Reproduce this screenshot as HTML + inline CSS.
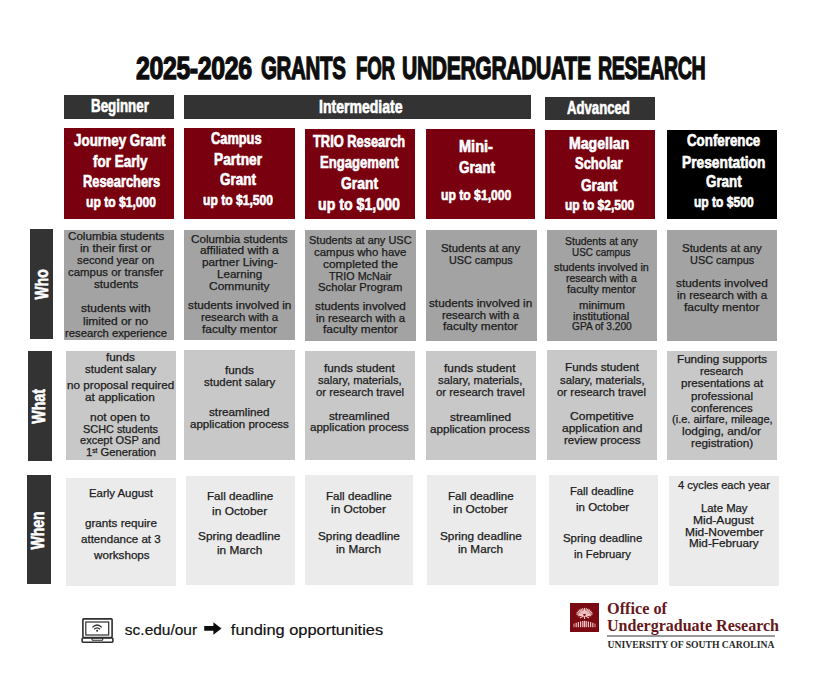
<!DOCTYPE html>
<html><head><meta charset="utf-8"><style>
html,body{margin:0;padding:0;background:#fff;}
body{width:825px;height:700px;position:relative;overflow:hidden;}
.b{position:absolute;}
.t{position:absolute;text-align:center;white-space:nowrap;transform-origin:50% 50%;}
sup{font-size:0.6em;line-height:0;vertical-align:0.55em;}
</style></head><body>
<div class="t" style="left:136.00px;top:53.29px;text-align:left;transform-origin:0 50%;font-family:'Liberation Sans',sans-serif;font-weight:700;font-size:31.2px;line-height:31.2px;color:#0d0d0d;letter-spacing:-0.500px;transform:scaleX(0.7993);-webkit-text-stroke:1.3px #0d0d0d;">2025-2026</div>
<div class="t" style="left:260.50px;top:53.29px;text-align:left;transform-origin:0 50%;font-family:'Liberation Sans',sans-serif;font-weight:700;font-size:31.2px;line-height:31.2px;color:#0d0d0d;letter-spacing:-0.500px;transform:scaleX(0.6573);-webkit-text-stroke:1.3px #0d0d0d;">GRANTS</div>
<div class="t" style="left:355.60px;top:53.29px;text-align:left;transform-origin:0 50%;font-family:'Liberation Sans',sans-serif;font-weight:700;font-size:31.2px;line-height:31.2px;color:#0d0d0d;letter-spacing:-0.500px;transform:scaleX(0.6000);-webkit-text-stroke:1.3px #0d0d0d;">FOR</div>
<div class="t" style="left:401.80px;top:53.29px;text-align:left;transform-origin:0 50%;font-family:'Liberation Sans',sans-serif;font-weight:700;font-size:31.2px;line-height:31.2px;color:#0d0d0d;letter-spacing:-0.500px;transform:scaleX(0.6766);-webkit-text-stroke:1.3px #0d0d0d;">UNDERGRADUATE</div>
<div class="t" style="left:598.20px;top:53.29px;text-align:left;transform-origin:0 50%;font-family:'Liberation Sans',sans-serif;font-weight:700;font-size:31.2px;line-height:31.2px;color:#0d0d0d;letter-spacing:-0.500px;transform:scaleX(0.6279);-webkit-text-stroke:1.3px #0d0d0d;">RESEARCH</div>
<div class="b" style="left:64px;top:95px;width:110px;height:23.5px;background:#333333"></div>
<div class="b" style="left:184px;top:95px;width:347px;height:23.5px;background:#333333"></div>
<div class="b" style="left:545px;top:97px;width:110px;height:23px;background:#333333"></div>
<div class="t" style="left:90.50px;top:96.76px;text-align:left;transform-origin:0 50%;font-family:'Liberation Sans',sans-serif;font-weight:700;font-size:18.6px;line-height:18.6px;color:#fff;letter-spacing:0.000px;transform:scaleX(0.7181);-webkit-text-stroke:0.65px #fff;">Beginner</div>
<div class="t" style="left:318.50px;top:97.56px;text-align:left;transform-origin:0 50%;font-family:'Liberation Sans',sans-serif;font-weight:700;font-size:18.6px;line-height:18.6px;color:#fff;letter-spacing:0.000px;transform:scaleX(0.7560);-webkit-text-stroke:0.65px #fff;">Intermediate</div>
<div class="t" style="left:566.60px;top:98.86px;text-align:left;transform-origin:0 50%;font-family:'Liberation Sans',sans-serif;font-weight:700;font-size:18.6px;line-height:18.6px;color:#fff;letter-spacing:0.000px;transform:scaleX(0.7075);-webkit-text-stroke:0.65px #fff;">Advanced</div>
<div class="b" style="left:64px;top:128px;width:110px;height:90.5px;background:#78000f"></div>
<div class="b" style="left:184px;top:128px;width:110.5px;height:90.5px;background:#78000f"></div>
<div class="b" style="left:305px;top:128.5px;width:109.5px;height:90.0px;background:#78000f"></div>
<div class="b" style="left:425.5px;top:128.5px;width:109.0px;height:90.0px;background:#78000f"></div>
<div class="b" style="left:545px;top:130px;width:110px;height:88.5px;background:#78000f"></div>
<div class="b" style="left:667px;top:129.5px;width:109.5px;height:89.0px;background:#000"></div>
<div class="t" style="left:74.00px;top:132.86px;text-align:left;transform-origin:0 50%;font-family:'Liberation Sans',sans-serif;font-weight:700;font-size:16.7px;line-height:16.7px;color:#fff;letter-spacing:0.000px;transform:scaleX(0.8025);-webkit-text-stroke:0.65px #fff;">Journey Grant</div>
<div class="t" style="left:92.70px;top:153.56px;text-align:left;transform-origin:0 50%;font-family:'Liberation Sans',sans-serif;font-weight:700;font-size:16.7px;line-height:16.7px;color:#fff;letter-spacing:0.000px;transform:scaleX(0.8063);-webkit-text-stroke:0.65px #fff;">for Early</div>
<div class="t" style="left:82.70px;top:174.16px;text-align:left;transform-origin:0 50%;font-family:'Liberation Sans',sans-serif;font-weight:700;font-size:16.7px;line-height:16.7px;color:#fff;letter-spacing:0.000px;transform:scaleX(0.7708);-webkit-text-stroke:0.65px #fff;">Researchers</div>
<div class="t" style="left:86.00px;top:193.96px;text-align:left;transform-origin:0 50%;font-family:'Liberation Sans',sans-serif;font-weight:700;font-size:15.4px;line-height:15.4px;color:#fff;letter-spacing:0.000px;transform:scaleX(0.7864);-webkit-text-stroke:0.65px #fff;">up to $1,000</div>
<div class="t" style="left:210.70px;top:131.16px;text-align:left;transform-origin:0 50%;font-family:'Liberation Sans',sans-serif;font-weight:700;font-size:16.7px;line-height:16.7px;color:#fff;letter-spacing:0.000px;transform:scaleX(0.7680);-webkit-text-stroke:0.65px #fff;">Campus</div>
<div class="t" style="left:213.60px;top:152.16px;text-align:left;transform-origin:0 50%;font-family:'Liberation Sans',sans-serif;font-weight:700;font-size:16.7px;line-height:16.7px;color:#fff;letter-spacing:0.000px;transform:scaleX(0.8212);-webkit-text-stroke:0.65px #fff;">Partner</div>
<div class="t" style="left:220.00px;top:172.16px;text-align:left;transform-origin:0 50%;font-family:'Liberation Sans',sans-serif;font-weight:700;font-size:16.7px;line-height:16.7px;color:#fff;letter-spacing:0.000px;transform:scaleX(0.8089);-webkit-text-stroke:0.65px #fff;">Grant</div>
<div class="t" style="left:202.70px;top:191.96px;text-align:left;transform-origin:0 50%;font-family:'Liberation Sans',sans-serif;font-weight:700;font-size:15.4px;line-height:15.4px;color:#fff;letter-spacing:0.000px;transform:scaleX(0.7864);-webkit-text-stroke:0.65px #fff;">up to $1,500</div>
<div class="t" style="left:313.00px;top:134.16px;text-align:left;transform-origin:0 50%;font-family:'Liberation Sans',sans-serif;font-weight:700;font-size:16.7px;line-height:16.7px;color:#fff;letter-spacing:0.000px;transform:scaleX(0.7708);-webkit-text-stroke:0.65px #fff;">TRIO Research</div>
<div class="t" style="left:319.70px;top:154.86px;text-align:left;transform-origin:0 50%;font-family:'Liberation Sans',sans-serif;font-weight:700;font-size:16.7px;line-height:16.7px;color:#fff;letter-spacing:0.000px;transform:scaleX(0.7844);-webkit-text-stroke:0.65px #fff;">Engagement</div>
<div class="t" style="left:341.00px;top:176.16px;text-align:left;transform-origin:0 50%;font-family:'Liberation Sans',sans-serif;font-weight:700;font-size:16.7px;line-height:16.7px;color:#fff;letter-spacing:0.000px;transform:scaleX(0.8314);-webkit-text-stroke:0.65px #fff;">Grant</div>
<div class="t" style="left:318.30px;top:195.74px;text-align:left;transform-origin:0 50%;font-family:'Liberation Sans',sans-serif;font-weight:700;font-size:17.2px;line-height:17.2px;color:#fff;letter-spacing:0.000px;transform:scaleX(0.8248);-webkit-text-stroke:0.65px #fff;">up to $1,000</div>
<div class="t" style="left:459.00px;top:138.56px;text-align:left;transform-origin:0 50%;font-family:'Liberation Sans',sans-serif;font-weight:700;font-size:16.7px;line-height:16.7px;color:#fff;letter-spacing:0.000px;transform:scaleX(0.8719);-webkit-text-stroke:0.65px #fff;">Mini-</div>
<div class="t" style="left:458.60px;top:159.56px;text-align:left;transform-origin:0 50%;font-family:'Liberation Sans',sans-serif;font-weight:700;font-size:16.7px;line-height:16.7px;color:#fff;letter-spacing:0.000px;transform:scaleX(0.8089);-webkit-text-stroke:0.65px #fff;">Grant</div>
<div class="t" style="left:441.00px;top:187.26px;text-align:left;transform-origin:0 50%;font-family:'Liberation Sans',sans-serif;font-weight:700;font-size:15.4px;line-height:15.4px;color:#fff;letter-spacing:0.000px;transform:scaleX(0.7909);-webkit-text-stroke:0.65px #fff;">up to $1,000</div>
<div class="t" style="left:569.00px;top:136.46px;text-align:left;transform-origin:0 50%;font-family:'Liberation Sans',sans-serif;font-weight:700;font-size:16.7px;line-height:16.7px;color:#fff;letter-spacing:0.000px;transform:scaleX(0.8436);-webkit-text-stroke:0.65px #fff;">Magellan</div>
<div class="t" style="left:575.40px;top:156.46px;text-align:left;transform-origin:0 50%;font-family:'Liberation Sans',sans-serif;font-weight:700;font-size:16.7px;line-height:16.7px;color:#fff;letter-spacing:0.000px;transform:scaleX(0.7766);-webkit-text-stroke:0.65px #fff;">Scholar</div>
<div class="t" style="left:581.30px;top:177.56px;text-align:left;transform-origin:0 50%;font-family:'Liberation Sans',sans-serif;font-weight:700;font-size:16.7px;line-height:16.7px;color:#fff;letter-spacing:0.000px;transform:scaleX(0.8179);-webkit-text-stroke:0.65px #fff;">Grant</div>
<div class="t" style="left:564.70px;top:197.26px;text-align:left;transform-origin:0 50%;font-family:'Liberation Sans',sans-serif;font-weight:700;font-size:15.4px;line-height:15.4px;color:#fff;letter-spacing:0.000px;transform:scaleX(0.7785);-webkit-text-stroke:0.65px #fff;">up to $2,500</div>
<div class="t" style="left:687.00px;top:132.86px;text-align:left;transform-origin:0 50%;font-family:'Liberation Sans',sans-serif;font-weight:700;font-size:16.7px;line-height:16.7px;color:#fff;letter-spacing:0.000px;transform:scaleX(0.7980);-webkit-text-stroke:0.65px #fff;">Conference</div>
<div class="t" style="left:682.00px;top:154.56px;text-align:left;transform-origin:0 50%;font-family:'Liberation Sans',sans-serif;font-weight:700;font-size:16.7px;line-height:16.7px;color:#fff;letter-spacing:0.000px;transform:scaleX(0.8248);-webkit-text-stroke:0.65px #fff;">Presentation</div>
<div class="t" style="left:706.00px;top:174.16px;text-align:left;transform-origin:0 50%;font-family:'Liberation Sans',sans-serif;font-weight:700;font-size:16.7px;line-height:16.7px;color:#fff;letter-spacing:0.000px;transform:scaleX(0.8021);-webkit-text-stroke:0.65px #fff;">Grant</div>
<div class="t" style="left:693.70px;top:193.96px;text-align:left;transform-origin:0 50%;font-family:'Liberation Sans',sans-serif;font-weight:700;font-size:15.4px;line-height:15.4px;color:#fff;letter-spacing:0.000px;transform:scaleX(0.7839);-webkit-text-stroke:0.65px #fff;">up to $500</div>
<div class="b" style="left:30px;top:229.3px;width:23px;height:109.69999999999999px;background:#333333"></div>
<div class="b" style="left:28px;top:351px;width:23.700000000000003px;height:109.60000000000002px;background:#333333"></div>
<div class="b" style="left:27.2px;top:475.1px;width:23.599999999999998px;height:109.39999999999998px;background:#333333"></div>
<div class="t" style="left:-58.21px;top:275.10px;width:200px;font-family:'Liberation Sans',sans-serif;font-weight:700;font-size:18.8px;line-height:18.8px;color:#fff;transform:rotate(-90deg) scaleX(0.7369);-webkit-text-stroke:0.6px #fff;">Who</div>
<div class="t" style="left:-61.21px;top:396.60px;width:200px;font-family:'Liberation Sans',sans-serif;font-weight:700;font-size:18.8px;line-height:18.8px;color:#fff;transform:rotate(-90deg) scaleX(0.7552);-webkit-text-stroke:0.6px #fff;">What</div>
<div class="t" style="left:-62.21px;top:520.60px;width:200px;font-family:'Liberation Sans',sans-serif;font-weight:700;font-size:18.8px;line-height:18.8px;color:#fff;transform:rotate(-90deg) scaleX(0.7426);-webkit-text-stroke:0.6px #fff;">When</div>
<div class="b" style="left:64px;top:230px;width:110.4px;height:110px;background:#a3a3a3"></div>
<div class="b" style="left:184px;top:230px;width:110.60000000000002px;height:110px;background:#a3a3a3"></div>
<div class="b" style="left:305px;top:230px;width:110.80000000000001px;height:111px;background:#a3a3a3"></div>
<div class="b" style="left:426px;top:230px;width:110.5px;height:111px;background:#a3a3a3"></div>
<div class="b" style="left:546.6px;top:230px;width:110.39999999999998px;height:111px;background:#a3a3a3"></div>
<div class="b" style="left:667px;top:230px;width:110px;height:111px;background:#a3a3a3"></div>
<div class="b" style="left:66.2px;top:351.1px;width:110.2px;height:109.29999999999995px;background:#c8c8c8"></div>
<div class="b" style="left:184.2px;top:350.3px;width:110.5px;height:109.69999999999999px;background:#c8c8c8"></div>
<div class="b" style="left:305px;top:351.1px;width:109.80000000000001px;height:109.29999999999995px;background:#c8c8c8"></div>
<div class="b" style="left:426.2px;top:351.1px;width:109.80000000000001px;height:109.29999999999995px;background:#c8c8c8"></div>
<div class="b" style="left:546.9px;top:350.3px;width:110.10000000000002px;height:109.30000000000001px;background:#c8c8c8"></div>
<div class="b" style="left:667px;top:351.1px;width:110px;height:109.29999999999995px;background:#c8c8c8"></div>
<div class="b" style="left:66px;top:477.7px;width:110.30000000000001px;height:108.09999999999997px;background:#ebebeb"></div>
<div class="b" style="left:186.4px;top:475.8px;width:108.20000000000002px;height:109.69999999999999px;background:#ebebeb"></div>
<div class="b" style="left:305.3px;top:475.3px;width:108.19999999999999px;height:109.80000000000001px;background:#ebebeb"></div>
<div class="b" style="left:427.2px;top:475.4px;width:108.59999999999997px;height:109.70000000000005px;background:#ebebeb"></div>
<div class="b" style="left:548.9px;top:475.4px;width:109.60000000000002px;height:109.80000000000007px;background:#ebebeb"></div>
<div class="b" style="left:668.5px;top:476.3px;width:110.20000000000005px;height:109.99999999999994px;background:#ebebeb"></div>
<div class="t" style="left:67.58px;top:231.33px;text-align:left;transform-origin:0 50%;font-family:'Liberation Sans',sans-serif;font-weight:400;font-size:10.6px;line-height:10.6px;color:#1c1c1c;letter-spacing:0.000px;transform:scaleX(1.0965);-webkit-text-stroke:0.25px #1c1c1c;">Columbia students</div>
<div class="t" style="left:80.07px;top:243.33px;text-align:left;transform-origin:0 50%;font-family:'Liberation Sans',sans-serif;font-weight:400;font-size:10.6px;line-height:10.6px;color:#1c1c1c;letter-spacing:0.000px;transform:scaleX(1.1103);-webkit-text-stroke:0.25px #1c1c1c;">in their first or</div>
<div class="t" style="left:77.06px;top:255.33px;text-align:left;transform-origin:0 50%;font-family:'Liberation Sans',sans-serif;font-weight:400;font-size:10.6px;line-height:10.6px;color:#1c1c1c;letter-spacing:0.000px;transform:scaleX(1.0660);-webkit-text-stroke:0.25px #1c1c1c;">second year on</div>
<div class="t" style="left:68.08px;top:267.23px;text-align:left;transform-origin:0 50%;font-family:'Liberation Sans',sans-serif;font-weight:400;font-size:10.6px;line-height:10.6px;color:#1c1c1c;letter-spacing:0.000px;transform:scaleX(1.0780);-webkit-text-stroke:0.25px #1c1c1c;">campus or transfer</div>
<div class="t" style="left:93.54px;top:279.03px;text-align:left;transform-origin:0 50%;font-family:'Liberation Sans',sans-serif;font-weight:400;font-size:10.6px;line-height:10.6px;color:#1c1c1c;letter-spacing:0.000px;transform:scaleX(1.1060);-webkit-text-stroke:0.25px #1c1c1c;">students</div>
<div class="t" style="left:80.90px;top:303.33px;text-align:left;transform-origin:0 50%;font-family:'Liberation Sans',sans-serif;font-weight:400;font-size:10.6px;line-height:10.6px;color:#1c1c1c;letter-spacing:0.000px;transform:scaleX(1.1252);-webkit-text-stroke:0.25px #1c1c1c;">students with</div>
<div class="t" style="left:83.07px;top:315.73px;text-align:left;transform-origin:0 50%;font-family:'Liberation Sans',sans-serif;font-weight:400;font-size:10.6px;line-height:10.6px;color:#1c1c1c;letter-spacing:0.000px;transform:scaleX(1.1306);-webkit-text-stroke:0.25px #1c1c1c;">limited or no</div>
<div class="t" style="left:64.67px;top:328.03px;text-align:left;transform-origin:0 50%;font-family:'Liberation Sans',sans-serif;font-weight:400;font-size:10.6px;line-height:10.6px;color:#1c1c1c;letter-spacing:0.000px;transform:scaleX(1.0628);-webkit-text-stroke:0.25px #1c1c1c;">research experience</div>
<div class="t" style="left:191.02px;top:233.53px;text-align:left;transform-origin:0 50%;font-family:'Liberation Sans',sans-serif;font-weight:400;font-size:10.6px;line-height:10.6px;color:#1c1c1c;letter-spacing:0.000px;transform:scaleX(1.1001);-webkit-text-stroke:0.25px #1c1c1c;">Columbia students</div>
<div class="t" style="left:199.99px;top:245.33px;text-align:left;transform-origin:0 50%;font-family:'Liberation Sans',sans-serif;font-weight:400;font-size:10.6px;line-height:10.6px;color:#1c1c1c;letter-spacing:0.000px;transform:scaleX(1.1238);-webkit-text-stroke:0.25px #1c1c1c;">affiliated with a</div>
<div class="t" style="left:201.61px;top:257.33px;text-align:left;transform-origin:0 50%;font-family:'Liberation Sans',sans-serif;font-weight:400;font-size:10.6px;line-height:10.6px;color:#1c1c1c;letter-spacing:0.000px;transform:scaleX(1.1129);-webkit-text-stroke:0.25px #1c1c1c;">partner Living-</div>
<div class="t" style="left:216.70px;top:269.33px;text-align:left;transform-origin:0 50%;font-family:'Liberation Sans',sans-serif;font-weight:400;font-size:10.6px;line-height:10.6px;color:#1c1c1c;letter-spacing:0.000px;transform:scaleX(1.0961);-webkit-text-stroke:0.25px #1c1c1c;">Learning</div>
<div class="t" style="left:209.01px;top:281.13px;text-align:left;transform-origin:0 50%;font-family:'Liberation Sans',sans-serif;font-weight:400;font-size:10.6px;line-height:10.6px;color:#1c1c1c;letter-spacing:0.000px;transform:scaleX(1.1306);-webkit-text-stroke:0.25px #1c1c1c;">Community</div>
<div class="t" style="left:187.55px;top:300.03px;text-align:left;transform-origin:0 50%;font-family:'Liberation Sans',sans-serif;font-weight:400;font-size:10.6px;line-height:10.6px;color:#1c1c1c;letter-spacing:0.000px;transform:scaleX(1.1115);-webkit-text-stroke:0.25px #1c1c1c;">students involved in</div>
<div class="t" style="left:200.67px;top:312.03px;text-align:left;transform-origin:0 50%;font-family:'Liberation Sans',sans-serif;font-weight:400;font-size:10.6px;line-height:10.6px;color:#1c1c1c;letter-spacing:0.000px;transform:scaleX(1.0742);-webkit-text-stroke:0.25px #1c1c1c;">research with a</div>
<div class="t" style="left:201.77px;top:323.93px;text-align:left;transform-origin:0 50%;font-family:'Liberation Sans',sans-serif;font-weight:400;font-size:10.6px;line-height:10.6px;color:#1c1c1c;letter-spacing:0.000px;transform:scaleX(1.1276);-webkit-text-stroke:0.25px #1c1c1c;">faculty mentor</div>
<div class="t" style="left:309.06px;top:234.53px;text-align:left;transform-origin:0 50%;font-family:'Liberation Sans',sans-serif;font-weight:400;font-size:10.6px;line-height:10.6px;color:#1c1c1c;letter-spacing:0.000px;transform:scaleX(1.0371);-webkit-text-stroke:0.25px #1c1c1c;">Students at any USC</div>
<div class="t" style="left:314.17px;top:246.53px;text-align:left;transform-origin:0 50%;font-family:'Liberation Sans',sans-serif;font-weight:400;font-size:10.6px;line-height:10.6px;color:#1c1c1c;letter-spacing:0.000px;transform:scaleX(1.0822);-webkit-text-stroke:0.25px #1c1c1c;">campus who have</div>
<div class="t" style="left:322.92px;top:258.53px;text-align:left;transform-origin:0 50%;font-family:'Liberation Sans',sans-serif;font-weight:400;font-size:10.6px;line-height:10.6px;color:#1c1c1c;letter-spacing:0.000px;transform:scaleX(1.1261);-webkit-text-stroke:0.25px #1c1c1c;">completed the</div>
<div class="t" style="left:329.06px;top:270.53px;text-align:left;transform-origin:0 50%;font-family:'Liberation Sans',sans-serif;font-weight:400;font-size:10.6px;line-height:10.6px;color:#1c1c1c;letter-spacing:0.000px;transform:scaleX(1.0136);-webkit-text-stroke:0.25px #1c1c1c;">TRIO McNair</div>
<div class="t" style="left:318.15px;top:281.83px;text-align:left;transform-origin:0 50%;font-family:'Liberation Sans',sans-serif;font-weight:400;font-size:10.6px;line-height:10.6px;color:#1c1c1c;letter-spacing:0.000px;transform:scaleX(1.0622);-webkit-text-stroke:0.25px #1c1c1c;">Scholar Program</div>
<div class="t" style="left:314.94px;top:301.13px;text-align:left;transform-origin:0 50%;font-family:'Liberation Sans',sans-serif;font-weight:400;font-size:10.6px;line-height:10.6px;color:#1c1c1c;letter-spacing:0.000px;transform:scaleX(1.1105);-webkit-text-stroke:0.25px #1c1c1c;">students involved</div>
<div class="t" style="left:315.78px;top:312.93px;text-align:left;transform-origin:0 50%;font-family:'Liberation Sans',sans-serif;font-weight:400;font-size:10.6px;line-height:10.6px;color:#1c1c1c;letter-spacing:0.000px;transform:scaleX(1.0739);-webkit-text-stroke:0.25px #1c1c1c;">in research with a</div>
<div class="t" style="left:322.99px;top:323.93px;text-align:left;transform-origin:0 50%;font-family:'Liberation Sans',sans-serif;font-weight:400;font-size:10.6px;line-height:10.6px;color:#1c1c1c;letter-spacing:0.000px;transform:scaleX(1.1239);-webkit-text-stroke:0.25px #1c1c1c;">faculty mentor</div>
<div class="t" style="left:440.89px;top:243.33px;text-align:left;transform-origin:0 50%;font-family:'Liberation Sans',sans-serif;font-weight:400;font-size:10.6px;line-height:10.6px;color:#1c1c1c;letter-spacing:0.000px;transform:scaleX(1.0740);-webkit-text-stroke:0.25px #1c1c1c;">Students at any</div>
<div class="t" style="left:448.57px;top:255.33px;text-align:left;transform-origin:0 50%;font-family:'Liberation Sans',sans-serif;font-weight:400;font-size:10.6px;line-height:10.6px;color:#1c1c1c;letter-spacing:0.000px;transform:scaleX(1.0214);-webkit-text-stroke:0.25px #1c1c1c;">USC campus</div>
<div class="t" style="left:428.82px;top:298.13px;text-align:left;transform-origin:0 50%;font-family:'Liberation Sans',sans-serif;font-weight:400;font-size:10.6px;line-height:10.6px;color:#1c1c1c;letter-spacing:0.000px;transform:scaleX(1.1088);-webkit-text-stroke:0.25px #1c1c1c;">students involved in</div>
<div class="t" style="left:441.92px;top:309.93px;text-align:left;transform-origin:0 50%;font-family:'Liberation Sans',sans-serif;font-weight:400;font-size:10.6px;line-height:10.6px;color:#1c1c1c;letter-spacing:0.000px;transform:scaleX(1.0716);-webkit-text-stroke:0.25px #1c1c1c;">research with a</div>
<div class="t" style="left:443.01px;top:321.13px;text-align:left;transform-origin:0 50%;font-family:'Liberation Sans',sans-serif;font-weight:400;font-size:10.6px;line-height:10.6px;color:#1c1c1c;letter-spacing:0.000px;transform:scaleX(1.1248);-webkit-text-stroke:0.25px #1c1c1c;">faculty mentor</div>
<div class="t" style="left:565.28px;top:236.94px;text-align:left;transform-origin:0 50%;font-family:'Liberation Sans',sans-serif;font-weight:400;font-size:10.0px;line-height:10.0px;color:#1c1c1c;letter-spacing:0.000px;transform:scaleX(1.0453);-webkit-text-stroke:0.25px #1c1c1c;">Students at any</div>
<div class="t" style="left:572.33px;top:247.64px;text-align:left;transform-origin:0 50%;font-family:'Liberation Sans',sans-serif;font-weight:400;font-size:10.0px;line-height:10.0px;color:#1c1c1c;letter-spacing:0.000px;transform:scaleX(0.9940);-webkit-text-stroke:0.25px #1c1c1c;">USC campus</div>
<div class="t" style="left:554.20px;top:262.74px;text-align:left;transform-origin:0 50%;font-family:'Liberation Sans',sans-serif;font-weight:400;font-size:10.0px;line-height:10.0px;color:#1c1c1c;letter-spacing:0.000px;transform:scaleX(1.0791);-webkit-text-stroke:0.25px #1c1c1c;">students involved in</div>
<div class="t" style="left:566.22px;top:273.94px;text-align:left;transform-origin:0 50%;font-family:'Liberation Sans',sans-serif;font-weight:400;font-size:10.0px;line-height:10.0px;color:#1c1c1c;letter-spacing:0.000px;transform:scaleX(1.0429);-webkit-text-stroke:0.25px #1c1c1c;">research with a</div>
<div class="t" style="left:567.23px;top:284.64px;text-align:left;transform-origin:0 50%;font-family:'Liberation Sans',sans-serif;font-weight:400;font-size:10.0px;line-height:10.0px;color:#1c1c1c;letter-spacing:0.000px;transform:scaleX(1.0947);-webkit-text-stroke:0.25px #1c1c1c;">faculty mentor</div>
<div class="t" style="left:578.71px;top:300.94px;text-align:left;transform-origin:0 50%;font-family:'Liberation Sans',sans-serif;font-weight:400;font-size:10.0px;line-height:10.0px;color:#1c1c1c;letter-spacing:0.000px;transform:scaleX(1.1291);-webkit-text-stroke:0.25px #1c1c1c;">minimum</div>
<div class="t" style="left:573.41px;top:311.74px;text-align:left;transform-origin:0 50%;font-family:'Liberation Sans',sans-serif;font-weight:400;font-size:10.0px;line-height:10.0px;color:#1c1c1c;letter-spacing:0.000px;transform:scaleX(1.1265);-webkit-text-stroke:0.25px #1c1c1c;">institutional</div>
<div class="t" style="left:571.75px;top:322.24px;text-align:left;transform-origin:0 50%;font-family:'Liberation Sans',sans-serif;font-weight:400;font-size:10.0px;line-height:10.0px;color:#1c1c1c;letter-spacing:0.000px;transform:scaleX(1.0161);-webkit-text-stroke:0.25px #1c1c1c;">GPA of 3.200</div>
<div class="t" style="left:682.08px;top:242.53px;text-align:left;transform-origin:0 50%;font-family:'Liberation Sans',sans-serif;font-weight:400;font-size:10.6px;line-height:10.6px;color:#1c1c1c;letter-spacing:0.000px;transform:scaleX(1.0838);-webkit-text-stroke:0.25px #1c1c1c;">Students at any</div>
<div class="t" style="left:689.83px;top:254.53px;text-align:left;transform-origin:0 50%;font-family:'Liberation Sans',sans-serif;font-weight:400;font-size:10.6px;line-height:10.6px;color:#1c1c1c;letter-spacing:0.000px;transform:scaleX(1.0307);-webkit-text-stroke:0.25px #1c1c1c;">USC campus</div>
<div class="t" style="left:676.08px;top:278.43px;text-align:left;transform-origin:0 50%;font-family:'Liberation Sans',sans-serif;font-weight:400;font-size:10.6px;line-height:10.6px;color:#1c1c1c;letter-spacing:0.000px;transform:scaleX(1.1215);-webkit-text-stroke:0.25px #1c1c1c;">students involved</div>
<div class="t" style="left:676.94px;top:290.23px;text-align:left;transform-origin:0 50%;font-family:'Liberation Sans',sans-serif;font-weight:400;font-size:10.6px;line-height:10.6px;color:#1c1c1c;letter-spacing:0.000px;transform:scaleX(1.0845);-webkit-text-stroke:0.25px #1c1c1c;">in research with a</div>
<div class="t" style="left:684.22px;top:301.73px;text-align:left;transform-origin:0 50%;font-family:'Liberation Sans',sans-serif;font-weight:400;font-size:10.6px;line-height:10.6px;color:#1c1c1c;letter-spacing:0.000px;transform:scaleX(1.1351);-webkit-text-stroke:0.25px #1c1c1c;">faculty mentor</div>
<div class="t" style="left:105.99px;top:351.73px;text-align:left;transform-origin:0 50%;font-family:'Liberation Sans',sans-serif;font-weight:400;font-size:10.6px;line-height:10.6px;color:#1c1c1c;letter-spacing:0.000px;transform:scaleX(1.1123);-webkit-text-stroke:0.25px #1c1c1c;">funds</div>
<div class="t" style="left:84.73px;top:364.03px;text-align:left;transform-origin:0 50%;font-family:'Liberation Sans',sans-serif;font-weight:400;font-size:10.6px;line-height:10.6px;color:#1c1c1c;letter-spacing:0.000px;transform:scaleX(1.0810);-webkit-text-stroke:0.25px #1c1c1c;">student salary</div>
<div class="t" style="left:66.78px;top:379.63px;text-align:left;transform-origin:0 50%;font-family:'Liberation Sans',sans-serif;font-weight:400;font-size:10.6px;line-height:10.6px;color:#1c1c1c;letter-spacing:0.000px;transform:scaleX(1.1028);-webkit-text-stroke:0.25px #1c1c1c;">no proposal required</div>
<div class="t" style="left:85.47px;top:391.93px;text-align:left;transform-origin:0 50%;font-family:'Liberation Sans',sans-serif;font-weight:400;font-size:10.6px;line-height:10.6px;color:#1c1c1c;letter-spacing:0.000px;transform:scaleX(1.1179);-webkit-text-stroke:0.25px #1c1c1c;">at application</div>
<div class="t" style="left:90.37px;top:411.73px;text-align:left;transform-origin:0 50%;font-family:'Liberation Sans',sans-serif;font-weight:400;font-size:10.6px;line-height:10.6px;color:#1c1c1c;letter-spacing:0.000px;transform:scaleX(1.1321);-webkit-text-stroke:0.25px #1c1c1c;">not open to</div>
<div class="t" style="left:82.86px;top:424.03px;text-align:left;transform-origin:0 50%;font-family:'Liberation Sans',sans-serif;font-weight:400;font-size:10.6px;line-height:10.6px;color:#1c1c1c;letter-spacing:0.000px;transform:scaleX(1.0281);-webkit-text-stroke:0.25px #1c1c1c;">SCHC students</div>
<div class="t" style="left:80.35px;top:434.73px;text-align:left;transform-origin:0 50%;font-family:'Liberation Sans',sans-serif;font-weight:400;font-size:10.6px;line-height:10.6px;color:#1c1c1c;letter-spacing:0.000px;transform:scaleX(1.0401);-webkit-text-stroke:0.25px #1c1c1c;">except OSP and</div>
<div class="t" style="left:-79.30px;top:447.03px;width:400px;font-family:'Liberation Sans',sans-serif;font-weight:400;font-size:10.6px;line-height:10.6px;color:#1c1c1c;transform:scaleX(1.0600);-webkit-text-stroke:0.25px #1c1c1c;">1<sup>st</sup> Generation</div>
<div class="t" style="left:225.02px;top:365.13px;text-align:left;transform-origin:0 50%;font-family:'Liberation Sans',sans-serif;font-weight:400;font-size:10.6px;line-height:10.6px;color:#1c1c1c;letter-spacing:0.000px;transform:scaleX(1.1132);-webkit-text-stroke:0.25px #1c1c1c;">funds</div>
<div class="t" style="left:203.75px;top:377.13px;text-align:left;transform-origin:0 50%;font-family:'Liberation Sans',sans-serif;font-weight:400;font-size:10.6px;line-height:10.6px;color:#1c1c1c;letter-spacing:0.000px;transform:scaleX(1.0819);-webkit-text-stroke:0.25px #1c1c1c;">student salary</div>
<div class="t" style="left:209.10px;top:407.23px;text-align:left;transform-origin:0 50%;font-family:'Liberation Sans',sans-serif;font-weight:400;font-size:10.6px;line-height:10.6px;color:#1c1c1c;letter-spacing:0.000px;transform:scaleX(1.1076);-webkit-text-stroke:0.25px #1c1c1c;">streamlined</div>
<div class="t" style="left:189.98px;top:419.13px;text-align:left;transform-origin:0 50%;font-family:'Liberation Sans',sans-serif;font-weight:400;font-size:10.6px;line-height:10.6px;color:#1c1c1c;letter-spacing:0.000px;transform:scaleX(1.0905);-webkit-text-stroke:0.25px #1c1c1c;">application process</div>
<div class="t" style="left:324.12px;top:363.23px;text-align:left;transform-origin:0 50%;font-family:'Liberation Sans',sans-serif;font-weight:400;font-size:10.6px;line-height:10.6px;color:#1c1c1c;letter-spacing:0.000px;transform:scaleX(1.1147);-webkit-text-stroke:0.25px #1c1c1c;">funds student</div>
<div class="t" style="left:317.74px;top:374.73px;text-align:left;transform-origin:0 50%;font-family:'Liberation Sans',sans-serif;font-weight:400;font-size:10.6px;line-height:10.6px;color:#1c1c1c;letter-spacing:0.000px;transform:scaleX(1.0553);-webkit-text-stroke:0.25px #1c1c1c;">salary, materials,</div>
<div class="t" style="left:315.58px;top:387.03px;text-align:left;transform-origin:0 50%;font-family:'Liberation Sans',sans-serif;font-weight:400;font-size:10.6px;line-height:10.6px;color:#1c1c1c;letter-spacing:0.000px;transform:scaleX(1.0675);-webkit-text-stroke:0.25px #1c1c1c;">or research travel</div>
<div class="t" style="left:329.25px;top:410.83px;text-align:left;transform-origin:0 50%;font-family:'Liberation Sans',sans-serif;font-weight:400;font-size:10.6px;line-height:10.6px;color:#1c1c1c;letter-spacing:0.000px;transform:scaleX(1.1076);-webkit-text-stroke:0.25px #1c1c1c;">streamlined</div>
<div class="t" style="left:310.13px;top:422.33px;text-align:left;transform-origin:0 50%;font-family:'Liberation Sans',sans-serif;font-weight:400;font-size:10.6px;line-height:10.6px;color:#1c1c1c;letter-spacing:0.000px;transform:scaleX(1.0905);-webkit-text-stroke:0.25px #1c1c1c;">application process</div>
<div class="t" style="left:444.33px;top:363.23px;text-align:left;transform-origin:0 50%;font-family:'Liberation Sans',sans-serif;font-weight:400;font-size:10.6px;line-height:10.6px;color:#1c1c1c;letter-spacing:0.000px;transform:scaleX(1.1239);-webkit-text-stroke:0.25px #1c1c1c;">funds student</div>
<div class="t" style="left:437.89px;top:375.03px;text-align:left;transform-origin:0 50%;font-family:'Liberation Sans',sans-serif;font-weight:400;font-size:10.6px;line-height:10.6px;color:#1c1c1c;letter-spacing:0.000px;transform:scaleX(1.0640);-webkit-text-stroke:0.25px #1c1c1c;">salary, materials,</div>
<div class="t" style="left:435.72px;top:387.03px;text-align:left;transform-origin:0 50%;font-family:'Liberation Sans',sans-serif;font-weight:400;font-size:10.6px;line-height:10.6px;color:#1c1c1c;letter-spacing:0.000px;transform:scaleX(1.0763);-webkit-text-stroke:0.25px #1c1c1c;">or research travel</div>
<div class="t" style="left:449.50px;top:411.73px;text-align:left;transform-origin:0 50%;font-family:'Liberation Sans',sans-serif;font-weight:400;font-size:10.6px;line-height:10.6px;color:#1c1c1c;letter-spacing:0.000px;transform:scaleX(1.1168);-webkit-text-stroke:0.25px #1c1c1c;">streamlined</div>
<div class="t" style="left:430.22px;top:423.73px;text-align:left;transform-origin:0 50%;font-family:'Liberation Sans',sans-serif;font-weight:400;font-size:10.6px;line-height:10.6px;color:#1c1c1c;letter-spacing:0.000px;transform:scaleX(1.0995);-webkit-text-stroke:0.25px #1c1c1c;">application process</div>
<div class="t" style="left:564.86px;top:362.33px;text-align:left;transform-origin:0 50%;font-family:'Liberation Sans',sans-serif;font-weight:400;font-size:10.6px;line-height:10.6px;color:#1c1c1c;letter-spacing:0.000px;transform:scaleX(1.1039);-webkit-text-stroke:0.25px #1c1c1c;">Funds student</div>
<div class="t" style="left:559.60px;top:375.03px;text-align:left;transform-origin:0 50%;font-family:'Liberation Sans',sans-serif;font-weight:400;font-size:10.6px;line-height:10.6px;color:#1c1c1c;letter-spacing:0.000px;transform:scaleX(1.0675);-webkit-text-stroke:0.25px #1c1c1c;">salary, materials,</div>
<div class="t" style="left:557.42px;top:387.03px;text-align:left;transform-origin:0 50%;font-family:'Liberation Sans',sans-serif;font-weight:400;font-size:10.6px;line-height:10.6px;color:#1c1c1c;letter-spacing:0.000px;transform:scaleX(1.0798);-webkit-text-stroke:0.25px #1c1c1c;">or research travel</div>
<div class="t" style="left:570.11px;top:411.23px;text-align:left;transform-origin:0 50%;font-family:'Liberation Sans',sans-serif;font-weight:400;font-size:10.6px;line-height:10.6px;color:#1c1c1c;letter-spacing:0.000px;transform:scaleX(1.1378);-webkit-text-stroke:0.25px #1c1c1c;">Competitive</div>
<div class="t" style="left:561.71px;top:423.23px;text-align:left;transform-origin:0 50%;font-family:'Liberation Sans',sans-serif;font-weight:400;font-size:10.6px;line-height:10.6px;color:#1c1c1c;letter-spacing:0.000px;transform:scaleX(1.1281);-webkit-text-stroke:0.25px #1c1c1c;">application and</div>
<div class="t" style="left:563.72px;top:434.73px;text-align:left;transform-origin:0 50%;font-family:'Liberation Sans',sans-serif;font-weight:400;font-size:10.6px;line-height:10.6px;color:#1c1c1c;letter-spacing:0.000px;transform:scaleX(1.0815);-webkit-text-stroke:0.25px #1c1c1c;">review process</div>
<div class="t" style="left:676.89px;top:354.13px;text-align:left;transform-origin:0 50%;font-family:'Liberation Sans',sans-serif;font-weight:400;font-size:10.6px;line-height:10.6px;color:#1c1c1c;letter-spacing:0.000px;transform:scaleX(1.1019);-webkit-text-stroke:0.25px #1c1c1c;">Funding supports</div>
<div class="t" style="left:700.45px;top:366.13px;text-align:left;transform-origin:0 50%;font-family:'Liberation Sans',sans-serif;font-weight:400;font-size:10.6px;line-height:10.6px;color:#1c1c1c;letter-spacing:0.000px;transform:scaleX(1.0452);-webkit-text-stroke:0.25px #1c1c1c;">research</div>
<div class="t" style="left:680.87px;top:378.33px;text-align:left;transform-origin:0 50%;font-family:'Liberation Sans',sans-serif;font-weight:400;font-size:10.6px;line-height:10.6px;color:#1c1c1c;letter-spacing:0.000px;transform:scaleX(1.0908);-webkit-text-stroke:0.25px #1c1c1c;">presentations at</div>
<div class="t" style="left:691.01px;top:390.83px;text-align:left;transform-origin:0 50%;font-family:'Liberation Sans',sans-serif;font-weight:400;font-size:10.6px;line-height:10.6px;color:#1c1c1c;letter-spacing:0.000px;transform:scaleX(1.0846);-webkit-text-stroke:0.25px #1c1c1c;">professional</div>
<div class="t" style="left:691.09px;top:402.63px;text-align:left;transform-origin:0 50%;font-family:'Liberation Sans',sans-serif;font-weight:400;font-size:10.6px;line-height:10.6px;color:#1c1c1c;letter-spacing:0.000px;transform:scaleX(1.0700);-webkit-text-stroke:0.25px #1c1c1c;">conferences</div>
<div class="t" style="left:671.66px;top:414.13px;text-align:left;transform-origin:0 50%;font-family:'Liberation Sans',sans-serif;font-weight:400;font-size:10.6px;line-height:10.6px;color:#1c1c1c;letter-spacing:0.000px;transform:scaleX(1.0420);-webkit-text-stroke:0.25px #1c1c1c;">(i.e. airfare, mileage,</div>
<div class="t" style="left:682.43px;top:425.63px;text-align:left;transform-origin:0 50%;font-family:'Liberation Sans',sans-serif;font-weight:400;font-size:10.6px;line-height:10.6px;color:#1c1c1c;letter-spacing:0.000px;transform:scaleX(1.1286);-webkit-text-stroke:0.25px #1c1c1c;">lodging, and/or</div>
<div class="t" style="left:690.87px;top:438.03px;text-align:left;transform-origin:0 50%;font-family:'Liberation Sans',sans-serif;font-weight:400;font-size:10.6px;line-height:10.6px;color:#1c1c1c;letter-spacing:0.000px;transform:scaleX(1.1125);-webkit-text-stroke:0.25px #1c1c1c;">registration)</div>
<div class="t" style="left:89.34px;top:487.53px;text-align:left;transform-origin:0 50%;font-family:'Liberation Sans',sans-serif;font-weight:400;font-size:10.6px;line-height:10.6px;color:#1c1c1c;letter-spacing:0.000px;transform:scaleX(1.0757);-webkit-text-stroke:0.25px #1c1c1c;">Early August</div>
<div class="t" style="left:85.38px;top:518.43px;text-align:left;transform-origin:0 50%;font-family:'Liberation Sans',sans-serif;font-weight:400;font-size:10.6px;line-height:10.6px;color:#1c1c1c;letter-spacing:0.000px;transform:scaleX(1.1001);-webkit-text-stroke:0.25px #1c1c1c;">grants require</div>
<div class="t" style="left:81.49px;top:534.13px;text-align:left;transform-origin:0 50%;font-family:'Liberation Sans',sans-serif;font-weight:400;font-size:10.6px;line-height:10.6px;color:#1c1c1c;letter-spacing:0.000px;transform:scaleX(1.0908);-webkit-text-stroke:0.25px #1c1c1c;">attendance at 3</div>
<div class="t" style="left:93.53px;top:550.13px;text-align:left;transform-origin:0 50%;font-family:'Liberation Sans',sans-serif;font-weight:400;font-size:10.6px;line-height:10.6px;color:#1c1c1c;letter-spacing:0.000px;transform:scaleX(1.0993);-webkit-text-stroke:0.25px #1c1c1c;">workshops</div>
<div class="t" style="left:206.52px;top:491.33px;text-align:left;transform-origin:0 50%;font-family:'Liberation Sans',sans-serif;font-weight:400;font-size:10.6px;line-height:10.6px;color:#1c1c1c;letter-spacing:0.000px;transform:scaleX(1.1009);-webkit-text-stroke:0.25px #1c1c1c;">Fall deadline</div>
<div class="t" style="left:211.99px;top:505.53px;text-align:left;transform-origin:0 50%;font-family:'Liberation Sans',sans-serif;font-weight:400;font-size:10.6px;line-height:10.6px;color:#1c1c1c;letter-spacing:0.000px;transform:scaleX(1.1289);-webkit-text-stroke:0.25px #1c1c1c;">in October</div>
<div class="t" style="left:198.41px;top:531.23px;text-align:left;transform-origin:0 50%;font-family:'Liberation Sans',sans-serif;font-weight:400;font-size:10.6px;line-height:10.6px;color:#1c1c1c;letter-spacing:0.000px;transform:scaleX(1.1182);-webkit-text-stroke:0.25px #1c1c1c;">Spring deadline</div>
<div class="t" style="left:216.98px;top:544.93px;text-align:left;transform-origin:0 50%;font-family:'Liberation Sans',sans-serif;font-weight:400;font-size:10.6px;line-height:10.6px;color:#1c1c1c;letter-spacing:0.000px;transform:scaleX(1.1130);-webkit-text-stroke:0.25px #1c1c1c;">in March</div>
<div class="t" style="left:325.58px;top:491.33px;text-align:left;transform-origin:0 50%;font-family:'Liberation Sans',sans-serif;font-weight:400;font-size:10.6px;line-height:10.6px;color:#1c1c1c;letter-spacing:0.000px;transform:scaleX(1.0956);-webkit-text-stroke:0.25px #1c1c1c;">Fall deadline</div>
<div class="t" style="left:331.02px;top:504.33px;text-align:left;transform-origin:0 50%;font-family:'Liberation Sans',sans-serif;font-weight:400;font-size:10.6px;line-height:10.6px;color:#1c1c1c;letter-spacing:0.000px;transform:scaleX(1.1234);-webkit-text-stroke:0.25px #1c1c1c;">in October</div>
<div class="t" style="left:317.51px;top:530.73px;text-align:left;transform-origin:0 50%;font-family:'Liberation Sans',sans-serif;font-weight:400;font-size:10.6px;line-height:10.6px;color:#1c1c1c;letter-spacing:0.000px;transform:scaleX(1.1128);-webkit-text-stroke:0.25px #1c1c1c;">Spring deadline</div>
<div class="t" style="left:335.99px;top:544.13px;text-align:left;transform-origin:0 50%;font-family:'Liberation Sans',sans-serif;font-weight:400;font-size:10.6px;line-height:10.6px;color:#1c1c1c;letter-spacing:0.000px;transform:scaleX(1.1075);-webkit-text-stroke:0.25px #1c1c1c;">in March</div>
<div class="t" style="left:447.83px;top:491.33px;text-align:left;transform-origin:0 50%;font-family:'Liberation Sans',sans-serif;font-weight:400;font-size:10.6px;line-height:10.6px;color:#1c1c1c;letter-spacing:0.000px;transform:scaleX(1.0938);-webkit-text-stroke:0.25px #1c1c1c;">Fall deadline</div>
<div class="t" style="left:453.27px;top:504.33px;text-align:left;transform-origin:0 50%;font-family:'Liberation Sans',sans-serif;font-weight:400;font-size:10.6px;line-height:10.6px;color:#1c1c1c;letter-spacing:0.000px;transform:scaleX(1.1216);-webkit-text-stroke:0.25px #1c1c1c;">in October</div>
<div class="t" style="left:439.78px;top:530.73px;text-align:left;transform-origin:0 50%;font-family:'Liberation Sans',sans-serif;font-weight:400;font-size:10.6px;line-height:10.6px;color:#1c1c1c;letter-spacing:0.000px;transform:scaleX(1.1110);-webkit-text-stroke:0.25px #1c1c1c;">Spring deadline</div>
<div class="t" style="left:458.23px;top:544.13px;text-align:left;transform-origin:0 50%;font-family:'Liberation Sans',sans-serif;font-weight:400;font-size:10.6px;line-height:10.6px;color:#1c1c1c;letter-spacing:0.000px;transform:scaleX(1.1057);-webkit-text-stroke:0.25px #1c1c1c;">in March</div>
<div class="t" style="left:570.45px;top:486.13px;text-align:left;transform-origin:0 50%;font-family:'Liberation Sans',sans-serif;font-weight:400;font-size:10.6px;line-height:10.6px;color:#1c1c1c;letter-spacing:0.000px;transform:scaleX(1.0600);-webkit-text-stroke:0.25px #1c1c1c;">Fall deadline</div>
<div class="t" style="left:575.72px;top:502.13px;text-align:left;transform-origin:0 50%;font-family:'Liberation Sans',sans-serif;font-weight:400;font-size:10.6px;line-height:10.6px;color:#1c1c1c;letter-spacing:0.000px;transform:scaleX(1.0869);-webkit-text-stroke:0.25px #1c1c1c;">in October</div>
<div class="t" style="left:562.64px;top:532.93px;text-align:left;transform-origin:0 50%;font-family:'Liberation Sans',sans-serif;font-weight:400;font-size:10.6px;line-height:10.6px;color:#1c1c1c;letter-spacing:0.000px;transform:scaleX(1.0766);-webkit-text-stroke:0.25px #1c1c1c;">Spring deadline</div>
<div class="t" style="left:573.90px;top:549.23px;text-align:left;transform-origin:0 50%;font-family:'Liberation Sans',sans-serif;font-weight:400;font-size:10.6px;line-height:10.6px;color:#1c1c1c;letter-spacing:0.000px;transform:scaleX(1.0589);-webkit-text-stroke:0.25px #1c1c1c;">in February</div>
<div class="t" style="left:677.83px;top:480.33px;text-align:left;transform-origin:0 50%;font-family:'Liberation Sans',sans-serif;font-weight:400;font-size:10.6px;line-height:10.6px;color:#1c1c1c;letter-spacing:0.000px;transform:scaleX(1.0475);-webkit-text-stroke:0.25px #1c1c1c;">4 cycles each year</div>
<div class="t" style="left:700.52px;top:503.33px;text-align:left;transform-origin:0 50%;font-family:'Liberation Sans',sans-serif;font-weight:400;font-size:10.6px;line-height:10.6px;color:#1c1c1c;letter-spacing:0.000px;transform:scaleX(1.0672);-webkit-text-stroke:0.25px #1c1c1c;">Late May</div>
<div class="t" style="left:693.37px;top:514.93px;text-align:left;transform-origin:0 50%;font-family:'Liberation Sans',sans-serif;font-weight:400;font-size:10.6px;line-height:10.6px;color:#1c1c1c;letter-spacing:0.000px;transform:scaleX(1.1346);-webkit-text-stroke:0.25px #1c1c1c;">Mid-August</div>
<div class="t" style="left:684.57px;top:526.93px;text-align:left;transform-origin:0 50%;font-family:'Liberation Sans',sans-serif;font-weight:400;font-size:10.6px;line-height:10.6px;color:#1c1c1c;letter-spacing:0.000px;transform:scaleX(1.1292);-webkit-text-stroke:0.25px #1c1c1c;">Mid-November</div>
<div class="t" style="left:688.94px;top:538.13px;text-align:left;transform-origin:0 50%;font-family:'Liberation Sans',sans-serif;font-weight:400;font-size:10.6px;line-height:10.6px;color:#1c1c1c;letter-spacing:0.000px;transform:scaleX(1.1064);-webkit-text-stroke:0.25px #1c1c1c;">Mid-February</div>
<svg class="b" style="left:76px;top:612px" width="44" height="36" viewBox="0 0 44 36">
<g fill="none" stroke="#2e2e2e">
<rect x="6.9" y="6.9" width="29.2" height="18.6" rx="0.9" stroke-width="1.6"/>
<rect x="9.8" y="10" width="22.9" height="13" stroke-width="1.2"/>
<rect x="6.1" y="26" width="30.8" height="4.2" rx="0.9" stroke-width="1.6"/>
<rect x="16.1" y="25.8" width="10.6" height="2.5" rx="0.6" stroke-width="1.1"/>
<path d="M16.4 15.4 Q21.1 10.6 25.8 15.4" stroke-width="1.3"/>
<path d="M18.2 17.3 Q21.1 14.3 24 17.3" stroke-width="1.3"/>
</g>
<circle cx="21.1" cy="18.8" r="1" fill="#2e2e2e"/>
</svg>
<div class="t" style="left:-39.35px;top:621.50px;width:400px;font-family:'Liberation Sans',sans-serif;font-weight:400;font-size:15px;line-height:15px;color:#111;transform:scaleX(1.0322);-webkit-text-stroke:0.2px #111;">sc.edu/our</div>
<svg class="b" style="left:204px;top:622px" width="18" height="13" viewBox="0 0 18 13"><path d="M0.2 3.9 H9.4 V0.2 L17.5 6.4 L9.4 12.7 V8.8 H0.2 Z" fill="#0d0d0d"/></svg>
<div class="t" style="left:107.05px;top:621.80px;width:400px;font-family:'Liberation Sans',sans-serif;font-weight:400;font-size:15px;line-height:15px;color:#111;transform:scaleX(1.0935);-webkit-text-stroke:0.2px #111;">funding opportunities</div>
<div class="b" style="left:570px;top:603px;width:29px;height:29px;background:#7a0a12"></div>
<svg class="b" style="left:570px;top:603px" width="29" height="29" viewBox="0 0 29 29">
<g stroke="#f3c4c4" stroke-width="1.1" stroke-linecap="round" fill="none">
<path d="M12.33 11.85 L6.62 11.02"/>
<path d="M12.48 11.41 L7.15 9.51"/>
<path d="M12.74 11.01 L8.08 8.14"/>
<path d="M13.09 10.67 L9.36 6.99"/>
<path d="M13.51 10.41 L10.91 6.12"/>
<path d="M13.99 10.25 L12.66 5.58"/>
<path d="M14.50 10.20 L14.50 5.40"/>
<path d="M15.01 10.25 L16.34 5.58"/>
<path d="M15.49 10.41 L18.09 6.12"/>
<path d="M15.91 10.67 L19.64 6.99"/>
<path d="M16.26 11.01 L20.92 8.14"/>
<path d="M16.52 11.41 L21.85 9.51"/>
<path d="M16.67 11.85 L22.38 11.02"/>
<path d="M15.98 12.37 L20.90 12.76"/>
<path d="M15.46 12.97 L18.68 14.65"/>
<path d="M14.50 13.20 L14.50 15.40"/>
<path d="M13.54 12.97 L10.32 14.65"/>
<path d="M13.02 12.37 L8.10 12.76"/>
</g>
<g fill="#f3c4c4">
<rect x="3.40" y="20.60" width="1.2" height="3.60" opacity="0.7"/>
<rect x="5.60" y="19.80" width="1.2" height="4.40" opacity="1"/>
<rect x="7.80" y="19.00" width="1.2" height="5.20" opacity="1"/>
<rect x="10.00" y="18.40" width="1.2" height="5.80" opacity="1"/>
<rect x="12.20" y="18.00" width="1.2" height="6.20" opacity="1"/>
<rect x="13.90" y="17.80" width="1.2" height="6.40" opacity="1"/>
<rect x="15.60" y="18.00" width="1.2" height="6.20" opacity="1"/>
<rect x="17.80" y="18.40" width="1.2" height="5.80" opacity="1"/>
<rect x="20.00" y="19.00" width="1.2" height="5.20" opacity="1"/>
<rect x="22.20" y="19.80" width="1.2" height="4.40" opacity="1"/>
<rect x="24.40" y="20.60" width="1.2" height="3.60" opacity="0.7"/>
</g>
</svg>
<div class="t" style="left:436.90px;top:601.20px;width:400px;font-family:'Liberation Serif',sans-serif;font-weight:700;font-size:16px;line-height:16px;color:#651820;transform:scaleX(1.0156);">Office of</div>
<div class="t" style="left:493.40px;top:617.60px;width:400px;font-family:'Liberation Serif',sans-serif;font-weight:700;font-size:16px;line-height:16px;color:#651820;transform:scaleX(1.0019);">Undergraduate Research</div>
<div class="b" style="left:607px;top:634.8px;width:168px;height:1.8000000000000682px;background:#999"></div>
<div class="t" style="left:490.90px;top:640.08px;width:400px;font-family:'Liberation Serif',sans-serif;font-weight:700;font-size:9.7px;line-height:9.7px;color:#2a2a2a;transform:scaleX(0.9958);">UNIVERSITY OF SOUTH CAROLINA</div>
</body></html>
